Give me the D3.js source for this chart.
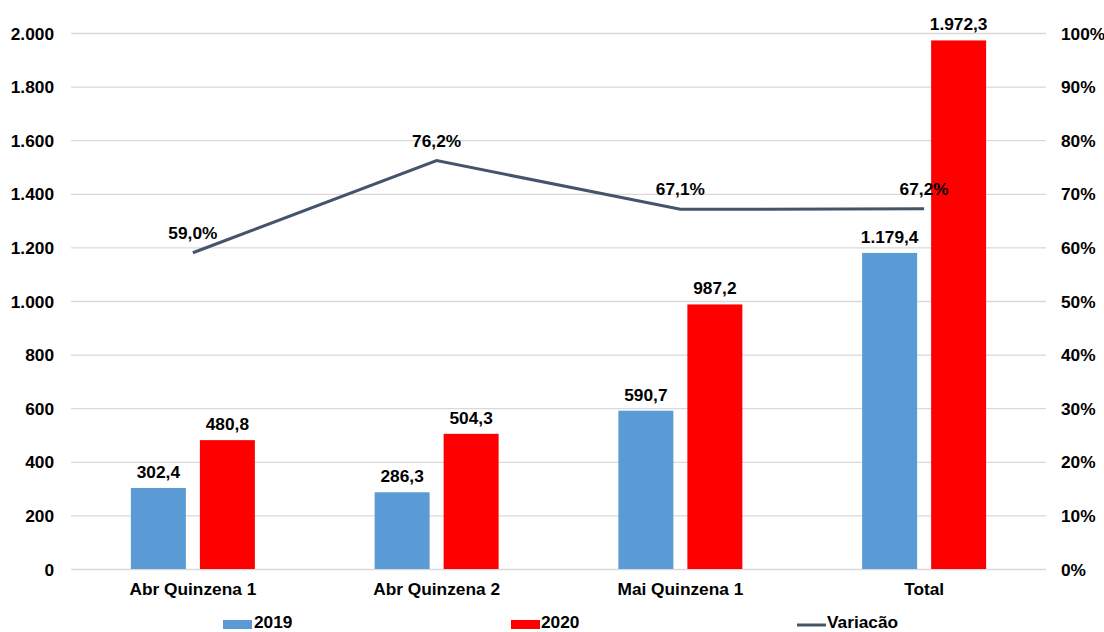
<!DOCTYPE html>
<html><head><meta charset="utf-8">
<script src="https://cdn.jsdelivr.net/npm/d3@7"></script>
<style>body{margin:0;background:#fff}svg{display:block}text{font-family:"Liberation Sans",Arial,sans-serif;font-weight:bold;font-size:17.3px;fill:#000}</style>
</head><body><svg id="c" width="1104" height="632"></svg>
<script>
const categories = ["Abr Quinzena 1","Abr Quinzena 2","Mai Quinzena 1","Total"];
const values2019 = [302.4, 286.3, 590.7, 1179.4];
const values2020 = [480.8, 504.3, 987.2, 1972.3];
const variacao = [0.590, 0.762, 0.671, 0.672];
const leftTicks = [0,200,400,600,800,1000,1200,1400,1600,1800,2000];
const rightTicks = [0,0.1,0.2,0.3,0.4,0.5,0.6,0.7,0.8,0.9,1.0];
const seriesNames = ["2019","2020","Variacão"];

const svg = d3.select("#c");
const L=71, R=1046, T=33, B=569;
const x = d3.scaleBand().domain(categories).range([L,R]);
const y = d3.scaleLinear().domain([0,2000]).range([B,T]);
const y2 = d3.scaleLinear().domain([0,1]).range([B,T]);
const ptBR = d3.formatLocale({decimal:",",thousands:".",grouping:[3],currency:["R$",""]});
const fInt = ptBR.format(",.0f"), f1 = ptBR.format(",.1f"), fPct = ptBR.format(".1%"), fPct0 = ptBR.format(".0%");
const FS = "17.3px";

// gridlines
svg.append("g").selectAll("line").data(leftTicks).join("line")
  .attr("x1",L).attr("x2",R).attr("y1",d=>y(d)+0.5).attr("y2",d=>y(d)+0.5)
  .attr("stroke","#d9d9d9").attr("stroke-width",1.3);

// left axis
const ga = svg.append("g").attr("transform",`translate(${L},0)`)
  .call(d3.axisLeft(y).tickValues(leftTicks).tickFormat(fInt).tickSize(0).tickPadding(17));
ga.select(".domain").remove();
ga.selectAll("text").attr("dy","0.35em").style("font-size",FS).style("font-family","Liberation Sans").style("font-weight","bold").attr("fill","#000");

// right axis
const gr = svg.append("g").attr("transform",`translate(${R},0)`)
  .call(d3.axisRight(y2).tickValues(rightTicks).tickFormat(fPct0).tickSize(0).tickPadding(15));
gr.select(".domain").remove();
gr.selectAll("text").attr("dy","0.35em").style("font-size",FS).style("font-family","Liberation Sans").style("font-weight","bold").attr("fill","#000");

// bottom axis
const gb = svg.append("g").attr("transform",`translate(0,${B})`)
  .call(d3.axisBottom(x).tickSize(0).tickPadding(14));
gb.select(".domain").remove();
gb.selectAll("text").attr("dy","0.71em").style("font-size",FS).style("font-family","Liberation Sans").style("font-weight","bold").attr("fill","#000");

const bw = 55, gap = 14;
const cx = d => x(d) + x.bandwidth()/2;

// line (behind bars)
const line = d3.line().x((d,i)=>cx(categories[i])).y(d=>y2(d));
svg.append("path").datum(variacao).attr("d",line).attr("fill","none")
  .attr("stroke","#44546A").attr("stroke-width",3);

// bars
svg.append("g").selectAll("rect").data(values2019).join("rect")
  .attr("x",(d,i)=>cx(categories[i]) - gap/2 - bw).attr("width",bw)
  .attr("y",d=>y(d)).attr("height",d=>B-y(d)).attr("fill","#5B9BD5");
svg.append("g").selectAll("rect").data(values2020).join("rect")
  .attr("x",(d,i)=>cx(categories[i]) + gap/2).attr("width",bw)
  .attr("y",d=>y(d)).attr("height",d=>B-y(d)).attr("fill","#FF0000");

// bar labels
svg.append("g").selectAll("text").data(values2019).join("text")
  .attr("x",(d,i)=>cx(categories[i]) - gap/2 - bw/2).attr("y",d=>y(d)-10)
  .attr("text-anchor","middle").text(d=>f1(d));
svg.append("g").selectAll("text").data(values2020).join("text")
  .attr("x",(d,i)=>cx(categories[i]) + gap/2 + bw/2).attr("y",d=>y(d)-10)
  .attr("text-anchor","middle").text(d=>f1(d));

// line labels
svg.append("g").selectAll("text").data(variacao).join("text")
  .attr("x",(d,i)=>cx(categories[i])).attr("y",d=>y2(d)-14)
  .attr("text-anchor","middle").text(d=>fPct(d));

// legend
const lg = svg.append("g");
const ly = 625;
lg.append("rect").attr("x",223).attr("y",ly-5).attr("width",29).attr("height",9).attr("fill","#5B9BD5");
lg.append("text").attr("x",254).attr("y",ly+3).text(seriesNames[0]);
lg.append("rect").attr("x",511).attr("y",ly-5).attr("width",29).attr("height",9).attr("fill","#FF0000");
lg.append("text").attr("x",541).attr("y",ly+3).text(seriesNames[1]);
lg.append("line").attr("x1",797).attr("x2",826).attr("y1",ly).attr("y2",ly).attr("stroke","#44546A").attr("stroke-width",3);
lg.append("text").attr("x",827).attr("y",ly+3).text(seriesNames[2]);
</script></body></html>
